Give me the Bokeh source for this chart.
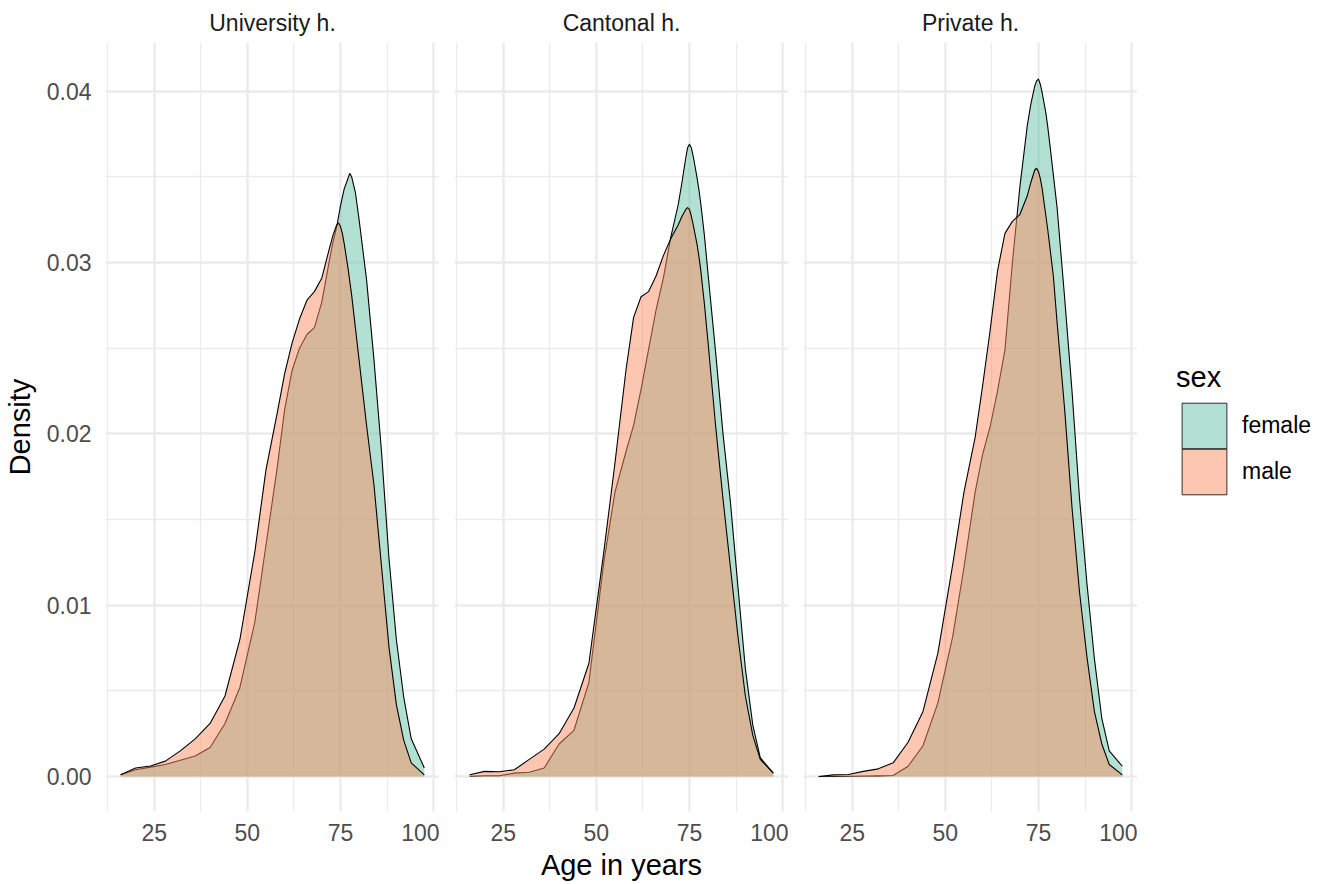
from bokeh.plotting import figure
from bokeh.layouts import row
from bokeh.models import Range1d, FixedTicker, PrintfTickFormatter, Legend, LegendItem
from bokeh.embed import file_html
from bokeh.resources import INLINE

# ---------------- data ----------------
panels = ["University h.", "Cantonal h.", "Private h."]
sexes = ["female", "male"]

ages = [16, 20, 24, 28, 32, 36, 40, 44, 48, 52, 55, 58, 60, 62, 64, 66, 68, 70,
        72, 73, 74, 74.5, 75, 75.5, 76, 77, 77.5, 78, 79, 80, 82, 84, 86, 88, 90, 92, 94, 97.5]

univ_female = [0.0001, 0.0004, 0.00055, 0.0007, 0.00095, 0.0012, 0.0017, 0.0031, 0.0052,
               0.0090, 0.0135, 0.0180, 0.0214, 0.0237, 0.0250, 0.0258, 0.0262, 0.0277,
               0.0301, 0.0312, 0.0321, 0.0327, 0.0333, 0.0338, 0.0343, 0.0349, 0.0352, 0.0350,
               0.0341, 0.0325, 0.0290, 0.0243, 0.0190, 0.0128, 0.0080, 0.0046, 0.0022, 0.0005]
univ_male = [0.0001, 0.0005, 0.00062, 0.0009, 0.0015, 0.0022, 0.0031, 0.0047, 0.0080,
             0.0131, 0.0179, 0.0212, 0.0235, 0.0253, 0.0267, 0.0278, 0.0283, 0.0291,
             0.0308, 0.0316, 0.0322, 0.0323, 0.0321, 0.0317, 0.0311, 0.0297, 0.0289, 0.0281,
             0.0262, 0.0243, 0.0205, 0.0170, 0.0123, 0.0076, 0.0042, 0.0021, 0.0008, 0.0001]

cant_female = [0.00002, 0.00005, 0.00005, 0.0002, 0.00025, 0.0005, 0.0019, 0.0027, 0.0055,
               0.0125, 0.0166, 0.0190, 0.0205, 0.0226, 0.0249, 0.0272, 0.0291, 0.0315,
               0.0334, 0.0347, 0.0361, 0.0367, 0.0369, 0.0367, 0.0362, 0.0350, 0.0343, 0.0335,
               0.0316, 0.0293, 0.0248, 0.0200, 0.0160, 0.0111, 0.0063, 0.0030, 0.0011, 0.0002]
cant_male = [0.0001, 0.0003, 0.00028, 0.0004, 0.0010, 0.0016, 0.0025, 0.0040, 0.0066,
             0.0131, 0.0183, 0.0238, 0.0268, 0.0280, 0.0283, 0.0292, 0.0304, 0.0314,
             0.0322, 0.0327, 0.0331, 0.0332, 0.0331, 0.0327, 0.0322, 0.0311, 0.0304, 0.0296,
             0.0276, 0.0253, 0.0205, 0.0162, 0.0122, 0.0082, 0.0047, 0.0024, 0.0010, 0.0002]

priv_female = [0.0, 0.0, 0.00002, 0.00003, 0.00004, 0.00006, 0.0006, 0.0018, 0.0043,
               0.0082, 0.0122, 0.0166, 0.0188, 0.0204, 0.0225, 0.0249, 0.0300, 0.0344,
               0.0380, 0.0393, 0.0403, 0.0406, 0.0407, 0.0404, 0.0399, 0.0387, 0.0379, 0.0370,
               0.0351, 0.0332, 0.0280, 0.0225, 0.0163, 0.0113, 0.0069, 0.0034, 0.0015, 0.0006]
priv_male = [0.0, 0.0001, 0.00012, 0.0003, 0.00045, 0.0008, 0.0020, 0.0038, 0.0072,
             0.0124, 0.0166, 0.0198, 0.0228, 0.0260, 0.0295, 0.0317, 0.0324, 0.0328,
             0.0339, 0.0347, 0.0354, 0.0355, 0.0353, 0.0349, 0.0343, 0.0327, 0.0319, 0.0310,
             0.0292, 0.0265, 0.0215, 0.0157, 0.0108, 0.0070, 0.0038, 0.0019, 0.0007, 0.0001]

x_ticks = [25, 50, 75, 100]
x_minor = [12.5, 37.5, 62.5, 87.5]
y_ticks = [0.00, 0.01, 0.02, 0.03, 0.04]
y_minor = [0.005, 0.015, 0.025, 0.035]

series = {
    "University h.": (univ_female, univ_male),
    "Cantonal h.": (cant_female, cant_male),
    "Private h.": (priv_female, priv_male),
}

# ---------------- style ----------------
FONT = "Liberation Sans"
colors = {"female": "#66C2A5", "male": "#FC8D62"}
GRID = "#EBEBEB"
SMALL = "23px"
BIG = "29px"

xr = Range1d(11.93, 101.58)
yr = Range1d(-0.00204, 0.04284)


def make_panel(name, first):
    p = figure(frame_width=334, frame_height=769, x_range=xr, y_range=yr,
               output_backend="svg", toolbar_location=None, title=name,
               min_border_left=104 if first else 15, min_border_right=0,
               min_border_top=42, min_border_bottom=73)
    p.outline_line_color = None
    p.background_fill_color = "white"
    p.border_fill_color = "white"

    p.title.align = "center"
    p.title.text_font = FONT
    p.title.text_font_size = SMALL
    p.title.text_font_style = "normal"
    p.title.text_color = "#1A1A1A"
    p.title.standoff = 14

    xt = FixedTicker(ticks=x_ticks, minor_ticks=x_minor)
    yt = FixedTicker(ticks=y_ticks, minor_ticks=y_minor)
    p.xaxis.ticker = xt
    p.yaxis.ticker = yt
    p.xgrid.ticker = xt
    p.ygrid.ticker = yt
    for g in (p.xgrid, p.ygrid):
        g.grid_line_color = GRID
        g.grid_line_width = 2.5
        g.minor_grid_line_color = GRID
        g.minor_grid_line_width = 1.3

    for ax in (p.xaxis, p.yaxis):
        ax.axis_line_color = None
        ax.major_tick_line_color = None
        ax.minor_tick_line_color = None
        ax.major_tick_out = 0
        ax.major_tick_in = 0
        ax.minor_tick_out = 0
        ax.minor_tick_in = 0
        ax.major_label_text_font = FONT
        ax.major_label_text_font_size = SMALL
        ax.major_label_text_color = "#4D4D4D"
        ax.axis_label_text_font = FONT
        ax.axis_label_text_font_size = BIG
        ax.axis_label_text_font_style = "normal"
        ax.axis_label_text_color = "black"

    p.xaxis.major_label_standoff = 12
    p.yaxis.major_label_standoff = 14
    p.yaxis.formatter = PrintfTickFormatter(format="%.2f")

    if first:
        p.yaxis.axis_label = "Density"
        p.yaxis.axis_label_standoff = 8
    else:
        p.yaxis.visible = False

    fem, mal = series[name]
    for vals, sex in ((fem, "female"), (mal, "male")):
        p.varea(x=ages, y1=[0] * len(ages), y2=vals,
                fill_color=colors[sex], fill_alpha=0.5)
        p.line(x=ages, y=vals, line_color="black", line_width=1.1, line_join="round")
    return p


figs = [make_panel(n, i == 0) for i, n in enumerate(panels)]
figs[1].xaxis.axis_label = "Age in years"
figs[1].xaxis.axis_label_standoff = 5

# ---------------- legend panel ----------------
pl = figure(width=189, height=884, x_range=Range1d(0, 1), y_range=Range1d(0, 1),
            output_backend="svg", toolbar_location=None,
            x_axis_type=None, y_axis_type=None,
            min_border_left=0, min_border_right=0, min_border_top=0, min_border_bottom=0)
pl.outline_line_color = None
pl.grid.visible = False
key_renderers = {}
for sex in sexes:
    # key swatch only: one off-range quad so the legend has a glyph to draw
    key_renderers[sex] = pl.quad(left=[5], right=[6], top=[6], bottom=[5],
                                 fill_color=colors[sex], fill_alpha=0.5,
                                 line_color="black", line_width=0.8)

common = dict(padding=0, margin=0, spacing=0,
              glyph_width=56, glyph_height=57, label_height=57,
              label_standoff=10,
              label_text_font=FONT, label_text_font_size=SMALL, label_text_color="black",
              border_line_color=None, background_fill_alpha=0)
leg_f = Legend(items=[LegendItem(label="female", renderers=[key_renderers["female"]])],
               title="sex", location=(39, 357),
               title_text_font=FONT, title_text_font_size=BIG,
               title_text_font_style="normal", title_text_color="black",
               title_standoff=3, **common)
leg_m = Legend(items=[LegendItem(label="male", renderers=[key_renderers["male"]])],
               location=(39, 311), **common)
pl.add_layout(leg_f)
pl.add_layout(leg_m)

layout = row(*figs, pl)

open("out.html", "w").write(file_html(layout, INLINE))
